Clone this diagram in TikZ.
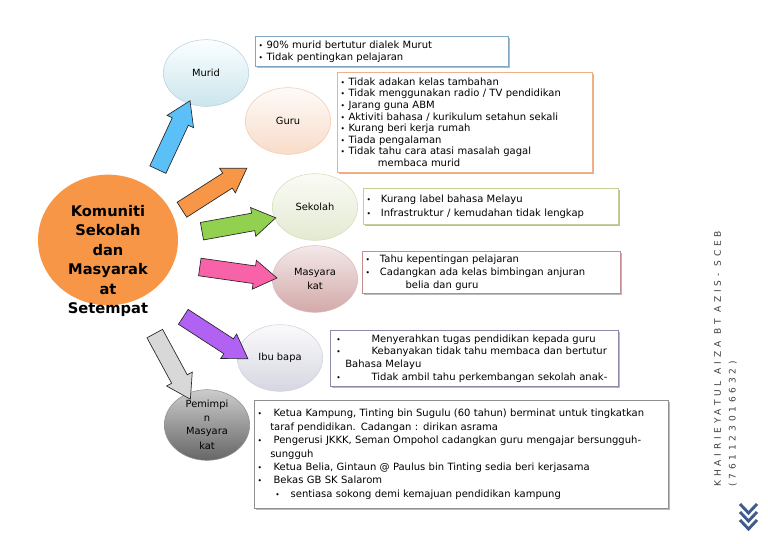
\documentclass[tikz,border=0pt]{standalone}
\usepackage{fontspec}
\setmainfont{DejaVu Sans}
\usepackage{graphicx}
\usetikzlibrary{shapes.geometric, shapes.arrows, shadows, positioning}
\definecolor{hubOrange}{HTML}{F79646}
\definecolor{muridEdge}{HTML}{7FA7C4}
\definecolor{guruEdge}{HTML}{F0B088}
\definecolor{sekolahEdge}{HTML}{C2CF98}
\definecolor{masyEdge}{HTML}{C48C8C}
\definecolor{ibuEdge}{HTML}{8A8AAA}
\definecolor{pemEdge}{HTML}{909090}
\definecolor{arrowBlue}{HTML}{5BC0F8}
\definecolor{arrowOrange}{HTML}{F79646}
\definecolor{arrowGreen}{HTML}{92D050}
\definecolor{arrowPink}{HTML}{F862A8}
\definecolor{arrowPurple}{HTML}{B262F2}
\definecolor{arrowGrey}{HTML}{D8D8D8}
\definecolor{authorGrey}{HTML}{404040}
\definecolor{chevronBlue}{HTML}{3E5C8E}
\newcommand{\bul}[1][6pt]{\makebox[#1][l]{\scalebox{0.75}{•}}}
\tikzset{
    hub/.style={
        ellipse,
        fill=hubOrange,
        minimum width=105pt,
        minimum height=98pt
    },
    hublabel/.style={
        align=center,
        inner sep=0pt,
        font=\fontsize{11}{14.6}\selectfont\bfseries
    },
    topic/.style n args={3}{
        ellipse,
        draw=#1,
        top color=#2,
        bottom color=#3,
        minimum width=64pt,
        minimum height=50pt,
        inner sep=0pt,
        align=center,
        font=\fontsize{7.4}{10}\selectfont
    },
    notebox/.style={
        rectangle,
        draw=#1,
        fill=white,
        drop shadow={shadow xshift=1.4pt, shadow yshift=-1.4pt, fill=black!45, opacity=0.6},
        anchor=north west,
        align=left,
        inner xsep=2.5pt,
        inner ysep=1pt
    },
    blockarrow/.style={
        single arrow,
        draw=black!85,
        fill=#1,
        line width=0.5pt,
        minimum width=21pt,
        single arrow head extend=4.3pt,
        single arrow tip angle=65,
        inner xsep=0pt,
        inner ysep=6.4pt
    },
    chevron/.style={
        draw=chevronBlue,
        line width=2.2pt
    }
}

\begin{document}
\begin{tikzpicture}[x=0.75pt, y=-0.75pt]
    \useasboundingbox (0,0) rectangle (768,543);

    % Central circle
    \node (Hub) [hub] at (108,240) {};
    \node (HubLabel) [hublabel] at (108,261) {Komuniti\\Sekolah\\dan\\Masyarak\\at\\Setempat};

    % Nodes for groups
    \node (Murid) [topic={muridEdge!55}{white!85!cyan!10}{cyan!15!muridEdge!35}] at (206,73) {Murid};
    \node (Guru) [topic={guruEdge!70}{guruEdge!5}{guruEdge!45}] at (288,121) {Guru};
    \node (Sekolah) [topic={sekolahEdge!70}{sekolahEdge!8}{sekolahEdge!45}] at (315,207) {Sekolah};
    \node (Masyarakat) [topic={masyEdge!60}{masyEdge!20}{masyEdge!75}] at (315,279) {Masyara\\kat};
    \node (IbuBapa) [topic={ibuEdge!40}{ibuEdge!4}{ibuEdge!35}] at (280,358) {Ibu bapa};
    \node (Pemimpin) [topic={pemEdge}{black!20}{black!60}] at (207,425) {\raisebox{-4pt}{\shortstack{Pemimpi\\[1.5pt]n\\[1.5pt]Masyara\\[1.5pt]kat}}};

    % Block arrows
    \node (ToMurid) [blockarrow=arrowBlue, minimum height=57pt, rotate=65] at (171,141.5) {};
    \node (ToGuru) [blockarrow=arrowOrange, minimum height=57.75pt, rotate=32.6] at (208.5,192.75) {};
    \node (ToSekolah) [blockarrow=arrowGreen, minimum height=56.25pt, rotate=10.3] at (232,225.75) {};
    \node (ToMasyarakat) [blockarrow=arrowPink, minimum height=58.5pt, rotate=-8.1] at (231.5,271.5) {};
    \node (ToIbuBapa) [blockarrow=arrowPurple, minimum height=57.75pt, rotate=-33] at (209.75,334) {};
    \node (ToPemimpin) [blockarrow=arrowGrey, minimum height=56pt, rotate=-61.5] at (169.25,360.25) {};

    % Notes for each group
    \node (MuridNote) [notebox=muridEdge, text width=184.75pt, minimum height=22.5pt,
        font=\fontsize{7.5}{9}\selectfont] at (255,36) {
        \bul 90\% murid bertutur dialek Murut\\
        \bul Tidak pentingkan pelajaran};
    \node (GuruNote) [notebox=guruEdge, text width=186.25pt, minimum height=75pt,
        font=\fontsize{7.5}{8.7}\selectfont] at (337,72) {
        \bul Tidak adakan kelas tambahan\\
        \bul Tidak menggunakan radio / TV pendidikan\\
        \bul Jarang guna ABM\\
        \bul Aktiviti bahasa / kurikulum setahun sekali\\
        \bul Kurang beri kerja rumah\\
        \bul Tiada pengalaman\\
        \bul Tidak tahu cara atasi masalah gagal\\
        \hspace*{28pt}membaca murid};
    \node (SekolahNote) [notebox=sekolahEdge, text width=186.25pt, minimum height=27pt,
        font=\fontsize{7.5}{10.5}\selectfont] at (363,188) {
        \bul[8.25pt] Kurang label bahasa Melayu\\
        \bul[8.25pt] Infrastruktur / kemudahan tidak lengkap};
    \node (MasyarakatNote) [notebox=masyEdge, text width=188.5pt, minimum height=31.5pt,
        font=\fontsize{7.5}{9.75}\selectfont] at (362,251) {
        \bul[8.25pt] Tahu kepentingan pelajaran\\
        \bul[8.25pt] Cadangkan ada kelas bimbingan anjuran\\
        \hspace*{30pt}belia dan guru};
    \node (IbuBapaNote) [notebox=ibuEdge, text width=211pt, minimum height=42pt,
        font=\fontsize{7.5}{9.5}\selectfont] at (330,330) {
        \hspace*{2pt}\bul[24pt] Menyerahkan tugas pendidikan kepada guru\\
        \hspace*{2pt}\bul[24pt] Kebanyakan tidak tahu membaca dan bertutur\\
        \hspace*{8.8pt}Bahasa Melayu\\
        \hspace*{2pt}\bul[24pt] Tidak ambil tahu perkembangan sekolah anak-};
    \node (PemimpinNote) [notebox=pemEdge, text width=305.5pt, minimum height=81pt,
        font=\fontsize{7.5}{10.1}\selectfont] at (254,400) {
        \bul[9.5pt] Ketua Kampung, Tinting bin Sugulu (60 tahun) berminat untuk tingkatkan\\
        \hspace*{9.5pt}taraf pendidikan. Cadangan :  dirikan asrama\\
        \bul[9.5pt] Pengerusi JKKK, Seman Ompohol cadangkan guru mengajar bersungguh-\\
        \hspace*{9.5pt}sungguh\\
        \bul[9.5pt] Ketua Belia, Gintaun @ Paulus bin Tinting sedia beri kerjasama\\
        \bul[9.5pt] Bekas GB SK Salarom\\
        \hspace*{13.3pt}\bul[9pt] sentiasa sokong demi kemajuan pendidikan kampung};

    % Author at the side
    \node (Author) [rotate=90, anchor=west, align=left, inner sep=0pt, text=authorGrey,
        font=\fontsize{6.8}{11}\selectfont\addfontfeature{LetterSpace=42}] at (725.5,487) {
        KHAIRIEYATUL AIZA BT AZIS- SCEB\\(761123016632)};

    % Chevrons
    \draw [chevron] (740,504) -- (748.5,513) -- (757,504);
    \draw [chevron] (740,512) -- (748.5,521) -- (757,512);
    \draw [chevron] (740,520) -- (748.5,529) -- (757,520);

\end{tikzpicture}
\end{document}
